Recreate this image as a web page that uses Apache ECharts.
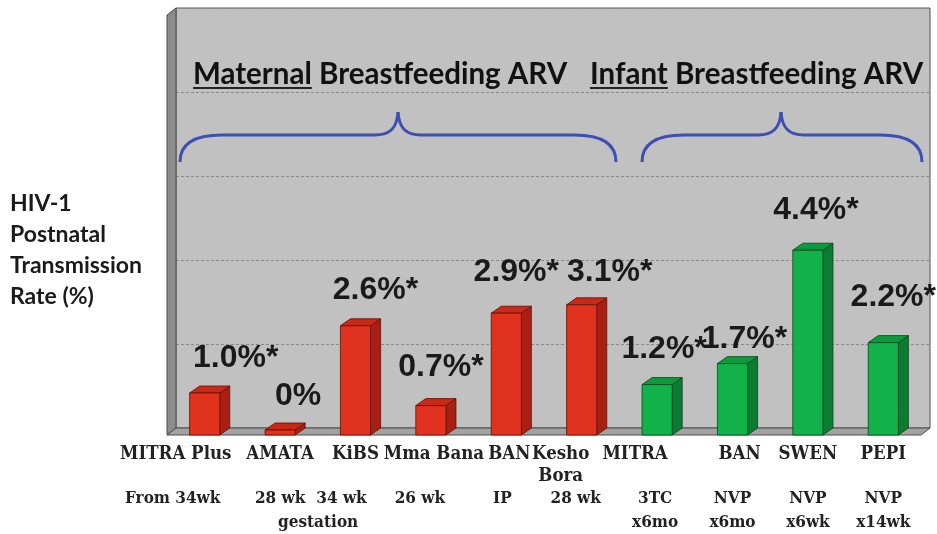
<!DOCTYPE html>
<html>
<head>
<meta charset="utf-8">
<script src="https://cdn.jsdelivr.net/npm/echarts@6/dist/echarts.min.js"></script>
<style>html,body{margin:0;background:#fff}#chart{width:937px;height:534px}</style>
</head>
<body>
<div id="chart"></div>
<script>
var chart = echarts.init(document.getElementById('chart'));

// data
var studies = ['MITRA Plus', 'AMATA', 'KiBS', 'Mma Bana', 'BAN', 'Kesho\nBora', 'MITRA', 'BAN', 'SWEN', 'PEPI'];
var regimen = ['From 34wk', '28 wk', '34 wk', '26 wk', 'IP', '28 wk', '3TC', 'NVP', 'NVP', 'NVP'];
var duration = ['', 'gestation', '', '', '', '', 'x6mo', 'x6mo', 'x6wk', 'x14wk'];
var rates = [1.0, 0, 2.6, 0.7, 2.9, 3.1, 1.2, 1.7, 4.4, 2.2];
var rateLabels = ['1.0%*', '0%', '2.6%*', '0.7%*', '2.9%*', '3.1%*', '1.2%*', '1.7%*', '4.4%*', '2.2%*'];
var arm = ['maternal', 'maternal', 'maternal', 'maternal', 'maternal', 'maternal', 'infant', 'infant', 'infant', 'infant'];
var groupTitles = [['Maternal', ' Breastfeeding ARV'], ['Infant', ' Breastfeeding ARV']];
var yTitle = ['HIV-1', 'Postnatal', 'Transmission', 'Rate (%)'];

// small nudges (px) for crowded text, as placed in the original
var nameShift = [-29, 0, 0, 3, 3, -21, -22, 7, 0, 0];
var regShift = [-32, 0, -14, -11, -4, -6, -2, 0, 0, 0];
var durShift = [0, 38, 0, 0, 0, 0, -2, 0, 0, 0];
var valDx = [21, 8, 10, 0, 0, 18, -3, 2, -2, 0];
var valDy = [4, 0, 3, 1, -2, 6, 4, 15, -1, -6];

var PAL = {
    maternal: {front: '#e1311f', side: '#aa1f14', top: '#c82919', edge: '#5e1008'},
    infant: {front: '#12b24a', side: '#0a7d33', top: '#0d9a3e', edge: '#0a431c'}
};
var DX = 10, DY = 7, FRONT_X = -9; // 3d depth

var SERIF = '"DejaVu Serif Condensed", "DejaVu Serif", serif';
var HEAD_FONT = 'bold 29.5px Lato, sans-serif';

function pad(s) {
    s += FRONT_X;
    return s < 0 ? [0, -2 * s, 0, 0] : [0, 0, 0, 2 * s];
}

var rich = {};
studies.forEach(function (s, i) {
    rich['n' + i] = {fontFamily: SERIF, fontWeight: 'bold', fontSize: 18.5, lineHeight: 22, color: '#222', padding: pad(nameShift[i])};
    rich['r' + i] = {fontFamily: SERIF, fontWeight: 'bold', fontSize: 17, lineHeight: 23, color: '#222', padding: pad(regShift[i])};
    rich['d' + i] = {fontFamily: SERIF, fontWeight: 'bold', fontSize: 17, lineHeight: 26, color: '#222', padding: pad(durShift[i])};
});

function renderFrame(params, api) {
    var cs = params.coordSys;
    var l = cs.x, t = cs.y, r = cs.x + cs.width, b = cs.y + cs.height;
    return {
        type: 'group',
        children: [
            {type: 'polygon', shape: {points: [[l, t], [l + FRONT_X, t + DY], [l + FRONT_X, b + DY], [l, b]]},
                style: {fill: '#8c8c8c', stroke: '#4d4d4d', lineWidth: 1}},
            {type: 'polygon', shape: {points: [[l, b], [r, b], [r + FRONT_X, b + DY], [l + FRONT_X, b + DY]]},
                style: {fill: '#a2a2a2', stroke: '#4d4d4d', lineWidth: 1}}
        ]
    };
}

function renderBar(params, api) {
    var i = api.value(0), v = api.value(1);
    var p = api.coord([i, v]), p0 = api.coord([i, 0]);
    var w = api.size([1, 0])[0] * 0.4;
    var x0 = p[0] + FRONT_X - w / 2, x1 = x0 + w;
    var yb = p0[1] + DY, yt = Math.min(p[1] + DY, yb - 5);
    var c = PAL[arm[i]];
    return {
        type: 'group',
        children: [
            {type: 'polygon', shape: {points: [[x1, yt], [x1 + DX, yt - DY], [x1 + DX, yb - DY], [x1, yb]]},
                style: {fill: c.side, stroke: c.edge, lineWidth: 0.8}},
            {type: 'polygon', shape: {points: [[x0, yt], [x1, yt], [x1 + DX, yt - DY], [x0 + DX, yt - DY]]},
                style: {fill: c.top, stroke: c.edge, lineWidth: 0.8}},
            {type: 'rect', shape: {x: x0, y: yt, width: w, height: yb - yt},
                style: {fill: c.front, stroke: c.edge, lineWidth: 0.8}},
            {type: 'text', x: x0 + w / 2 + 10 + valDx[i], y: Math.min(p[1] + DY, yb) - 39 + valDy[i],
                style: {text: rateLabels[i], font: 'bold 32px "Liberation Sans", Arial, sans-serif', fill: '#1a1a1a',
                    align: 'center', verticalAlign: 'middle', textAlign: 'center', textVerticalAlign: 'middle'}}
        ]
    };
}

// curly brace from x0 to x1, tip at xm
function brace(x0, xm, x1) {
    var yEnd = 162, yMid = 135, yTip = 112;
    var st = {fill: null, stroke: '#3d4fb5', lineWidth: 3};
    function bz(a, b, c1, c2) {
        return {type: 'bezierCurve', shape: {x1: a[0], y1: a[1], x2: b[0], y2: b[1], cpx1: c1[0], cpy1: c1[1], cpx2: c2[0], cpy2: c2[1]}, style: st};
    }
    function ln(a, b) {
        return {type: 'line', shape: {x1: a[0], y1: a[1], x2: b[0], y2: b[1]}, style: st};
    }
    return [
        bz([x0, yEnd], [x0 + 42, yMid], [x0, yEnd - 16], [x0 + 11, yMid]),
        ln([x0 + 42, yMid], [xm - 23, yMid]),
        bz([xm - 23, yMid], [xm, yTip], [xm - 8, yMid], [xm - 1, yMid - 7]),
        bz([xm, yTip], [xm + 23, yMid], [xm + 1, yMid - 7], [xm + 8, yMid]),
        ln([xm + 23, yMid], [x1 - 42, yMid]),
        bz([x1 - 42, yMid], [x1, yEnd], [x1 - 11, yMid], [x1, yEnd - 16])
    ];
}

// underline widths from the real font
var ctx = document.createElement('canvas').getContext('2d');
ctx.font = HEAD_FONT;
var headX = [193, 590];
var graphics = [];
groupTitles.forEach(function (g, k) {
    graphics.push({type: 'text', style: {text: g[0] + g[1], x: headX[k], y: 74, font: HEAD_FONT, fill: '#111',
        textAlign: 'left', textVerticalAlign: 'middle'}});
    graphics.push({type: 'rect', shape: {x: headX[k], y: 87, width: ctx.measureText(g[0]).width, height: 2}, style: {fill: '#222'}});
});
graphics = graphics.concat(brace(180, 398, 616), brace(642, 781, 922));
graphics.push({type: 'text', style: {text: yTitle.join('\n'), x: 10, y: 188, font: 'bold 23px Lato, sans-serif', lineHeight: 31,
    fill: '#1a1a1a', textAlign: 'left', textVerticalAlign: 'top'}});

var option = {
    backgroundColor: '#ffffff',
    animation: false,
    grid: {left: 176, right: 7, top: 8, bottom: 106, show: true, backgroundColor: '#c1c1c1', borderColor: '#555', borderWidth: 1},
    xAxis: {
        type: 'category',
        data: studies.map(function (s, i) { return String(i); }),
        axisLine: {show: false},
        axisTick: {show: false},
        axisLabel: {
            interval: 0,
            margin: 15,
            formatter: function (val, idx) {
                var nm = studies[idx].split('\n');
                return '{n' + idx + '|' + nm[0] + '}\n{n' + idx + '|' + (nm[1] || ' ') + '}\n{r' + idx + '|' + regimen[idx] +
                    '}\n{d' + idx + '|' + (duration[idx] || ' ') + '}';
            },
            rich: rich
        }
    },
    yAxis: {
        type: 'value', min: 0, max: 10, interval: 2,
        axisLabel: {show: false},
        axisLine: {show: false},
        axisTick: {show: false},
        splitLine: {lineStyle: {color: '#888', type: [3, 2], width: 1}}
    },
    graphic: graphics,
    series: [
        {type: 'custom', renderItem: renderFrame, data: [[0, 0]], z: 1, silent: true},
        {type: 'custom', renderItem: renderBar, data: rates.map(function (v, i) { return [i, v]; }), z: 3,
            encode: {x: 0, y: 1}}
    ]
};
chart.setOption(option);
</script>
</body>
</html>
